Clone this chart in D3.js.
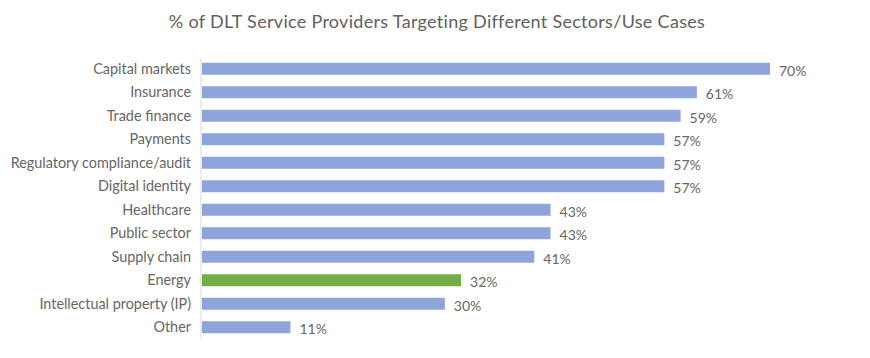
<!DOCTYPE html>
<html><head><meta charset="utf-8">
<script src="https://cdn.jsdelivr.net/npm/d3@7"></script>
<style>body{margin:0;background:#fff;} svg{display:block;}</style>
</head><body>
<script>
const categories = ["Capital markets","Insurance","Trade finance","Payments","Regulatory compliance/audit","Digital identity","Healthcare","Public sector","Supply chain","Energy","Intellectual property (IP)","Other"];
const values = [70,61,59,57,57,57,43,43,41,32,30,11];
const highlight = ["Energy"];

const W = 870, H = 358;
const svg = d3.select("body").append("svg").attr("width", W).attr("height", H);
const font = "Lato, 'Open Sans', sans-serif";

const x = d3.scaleLinear().domain([0, 70]).range([201, 770]);
const y = d3.scaleBand().domain(categories).range([57, 339]).paddingInner(0.49).paddingOuter(0.245);

svg.append("text").attr("x", 437).attr("y", 28).attr("text-anchor", "middle")
  .attr("font-family", font).attr("font-size", 18).attr("fill", "#606060")
  .attr("letter-spacing", 0.3)
  .text("% of DLT Service Providers Targeting Different Sectors/Use Cases");

svg.selectAll("rect.bar").data(categories).join("rect").attr("class", "bar")
  .attr("x", x(0) + 1).attr("y", d => y(d))
  .attr("width", (d, i) => x(values[i]) - x(0) - 1).attr("height", y.bandwidth())
  .attr("fill", d => highlight.includes(d) ? "#70AD47" : "#8FA4DB");

svg.append("line").attr("x1", x(0)).attr("x2", x(0)).attr("y1", 58).attr("y2", 339)
  .attr("stroke", "#D9D9D9").attr("stroke-width", 1);

svg.selectAll("text.cat").data(categories).join("text").attr("class", "cat")
  .attr("x", 191).attr("y", d => y(d) + y.bandwidth() / 2).attr("dy", "0.35em")
  .attr("text-anchor", "end").attr("font-family", font).attr("font-size", 14.4).attr("fill", "#666666")
  .text(d => d);

svg.selectAll("text.val").data(categories).join("text").attr("class", "val")
  .attr("x", (d, i) => x(values[i]) + 9).attr("y", d => y(d) + y.bandwidth() / 2 + 2).attr("dy", "0.35em")
  .attr("font-family", font).attr("font-size", 14).attr("fill", "#666666")
  .text((d, i) => values[i] + "%");
</script>
</body></html>
